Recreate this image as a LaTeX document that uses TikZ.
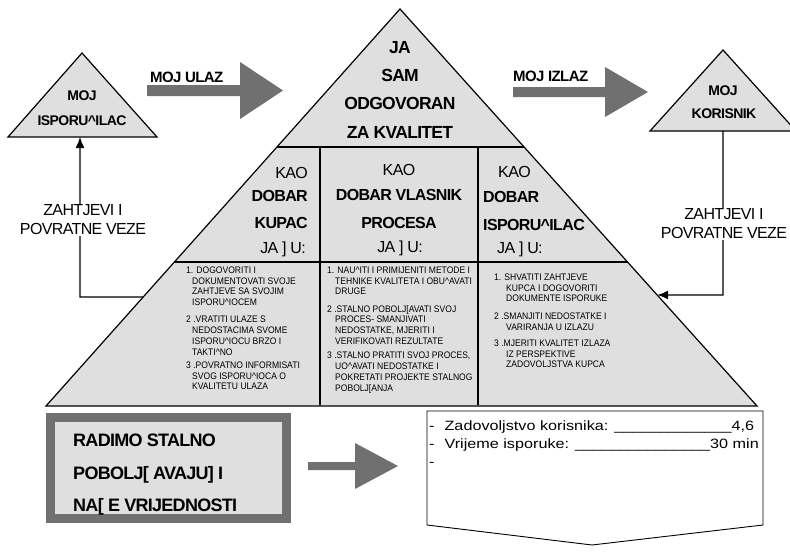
\documentclass[tikz,border=0pt]{standalone}
\usepackage{fontspec}
\setmainfont{Liberation Sans}
\newfontfamily\capsfont[LetterSpace=-4]{Liberation Sans}
\newfontfamily\listfont[FakeStretch=0.9]{Liberation Sans}
\newfontfamily\widefont[FakeStretch=1.2]{Liberation Sans}
\usetikzlibrary{arrows.meta,calc}
\definecolor{pyrgray}{HTML}{DFDFDF}
\definecolor{arrgray}{HTML}{707070}
\newcommand\hatc{\textasciicircum}

\begin{document}
\begin{tikzpicture}[x=1pt,y=-1pt,
  grayshape/.style={fill=pyrgray,draw=black,line width=1.2pt,line join=miter},
  divider/.style={line width=2pt},
  blockarrow/.style={fill=arrgray},
  feedback/.style={line width=1.4pt,-{Latex[length=11pt,width=9pt]}},
  captext/.style={inner sep=0pt,font=\capsfont\fontsize{16}{18}\selectfont},
  capbold/.style={inner sep=0pt,font=\capsfont\bfseries\fontsize{16}{18}\selectfont},
  topbold/.style={inner sep=0pt,font=\capsfont\bfseries\fontsize{17.5}{20}\selectfont},
  tribold/.style={inner sep=0pt,font=\capsfont\bfseries\fontsize{14}{16}\selectfont},
  arrlabel/.style={inner sep=0pt,font=\capsfont\bfseries\fontsize{15}{17}\selectfont},
  boxbold/.style={inner sep=0pt,font=\capsfont\bfseries\fontsize{18}{20}\selectfont},
  fblabel/.style={fill=white,inner sep=1pt,align=center,font=\capsfont\fontsize{16}{19}\selectfont},
  listtext/.style={inner sep=0pt,align=left,font=\listfont\fontsize{9.5}{10.7}\selectfont},
  widetext/.style={inner sep=0pt,font=\widefont\fontsize{13.5}{18}\selectfont},
]
\useasboundingbox (0,0) rectangle (790,554);
\clip (0,0) rectangle (790,554);

% supplier triangle (left) and customer triangle (right)
\coordinate (sA) at (82,53);
\coordinate (sL) at (8,137);
\coordinate (sR) at (157,137);
\draw[grayshape] (sA) -- (sL) -- (sR) -- cycle;
\node[tribold,anchor=base] (sup1) at (82,100) {MOJ};
\node[tribold,anchor=base] (sup2) at (82,125) {ISPORU\hatc ILAC};

\coordinate (kA) at (723,50);
\coordinate (kL) at (650,131);
\coordinate (kR) at (796,131);
\draw[grayshape] (kA) -- (kL) -- (kR) -- cycle;
\node[tribold,anchor=base] (cus1) at (723,95) {MOJ};
\node[tribold,anchor=base] (cus2) at (724,118) {KORISNIK};

% main pyramid
\coordinate (pA) at (400,9);
\coordinate (pL) at (46,406);
\coordinate (pR) at (757,406);
\draw[grayshape] (pA) -- (pL) -- (pR) -- cycle;
\draw[divider] ($(pA)!0.3476!(pL)$) -- ($(pA)!0.3476!(pR)$);
\draw[divider] ($(pA)!0.6373!(pL)$) -- ($(pA)!0.6373!(pR)$);
\draw[divider] (320,147) -- (320,405);
\draw[divider] (478,147) -- (478,405);

% block arrows
\fill[blockarrow] (147,85) -- (240,85) -- (240,62) -- (283,90.5) -- (240,119) -- (240,96) -- (147,96) -- cycle;
\fill[blockarrow] (513,87) -- (605,87) -- (605,67) -- (648,92) -- (605,117) -- (605,97) -- (513,97) -- cycle;
\fill[blockarrow] (308,462) -- (355,462) -- (355,443) -- (398,466) -- (355,489) -- (355,470) -- (308,470) -- cycle;
\node[arrlabel,anchor=base west] (inlbl) at (150,82.5) {MOJ ULAZ};
\node[arrlabel,anchor=base west] (outlbl) at (513,81.5) {MOJ IZLAZ};

% feedback connectors
\coordinate (fbL1) at ($(pA)!0.7254!(pL)$);
\coordinate (fbL2) at (80,297);
\coordinate (fbL3) at (80,137);
\draw[feedback] (fbL1) -- (fbL2) -- (fbL3);
\coordinate (fbR1) at (723,131);
\coordinate (fbR2) at (723,295);
\coordinate (fbR3) at ($(pA)!0.7204!(pR)$);
\draw[feedback] (fbR1) -- (fbR2) -- (fbR3);
\node[fblabel] (fbLlbl) at (83,220) {ZAHTJEVI I\\POVRATNE VEZE};
\node[fblabel] (fbRlbl) at (724,224) {ZAHTJEVI I\\POVRATNE VEZE};

% top section
\node[topbold,anchor=base] (t1) at (400,53.3) {JA};
\node[topbold,anchor=base] (t2) at (400,81.3) {SAM};
\node[topbold,anchor=base] (t3) at (400,109.3) {ODGOVORAN};
\node[topbold,anchor=base] (t4) at (400,138.3) {ZA KVALITET};

% role headings
\node[captext,anchor=base east] (a1) at (308,178.7) {KAO};
\node[capbold,anchor=base east] (a2) at (308,201.7) {DOBAR};
\node[capbold,anchor=base east] (a3) at (308,228.7) {KUPAC};
\node[captext,anchor=base east] (a4) at (306,253.7) {JA ] U:};

\node[captext,anchor=base] (b1) at (399,175.7) {KAO};
\node[capbold,anchor=base] (b2) at (399,200.7) {DOBAR VLASNIK};
\node[capbold,anchor=base] (b3) at (399,228.7) {PROCESA};
\node[captext,anchor=base] (b4) at (400,252.7) {JA ] U:};

\node[captext,anchor=base west] (c1) at (498,177.7) {KAO};
\node[capbold,anchor=base west] (c2) at (483,202.7) {DOBAR};
\node[capbold,anchor=base west] (c3) at (483,230.7) {ISPORU\hatc ILAC};
\node[captext,anchor=base west] (c4) at (497,253.7) {JA ] U:};

% task lists
\node[listtext,anchor=north west] (l1) at (186,266.6) {1. DOGOVORITI I\\\hspace*{6pt}DOKUMENTOVATI SVOJE\\\hspace*{6pt}ZAHTJEVE SA SVOJIM\\\hspace*{6pt}ISPORU\hatc IOCEM};
\node[listtext,anchor=north west] (l2) at (186,316.1) {2 .VRATITI ULAZE S\\\hspace*{6pt}NEDOSTACIMA SVOME\\\hspace*{6pt}ISPORU\hatc IOCU BRZO I\\\hspace*{6pt}TAKTI\hatc NO};
\node[listtext,anchor=north west] (l3) at (186,361.6) {3 .POVRATNO INFORMISATI\\\hspace*{6pt}SVOG ISPORU\hatc IOCA O\\\hspace*{6pt}KVALITETU ULAZA};

\node[listtext,anchor=north west] (m1) at (327,266.6) {1. NAU\hatc ITI I PRIMIJENITI METODE I\\\hspace*{8pt}TEHNIKE KVALITETA I OBU\hatc AVATI\\\hspace*{8pt}DRUGE};
\node[listtext,anchor=north west] (m2) at (327,305.1) {2 .STALNO POBOLJ[AVATI SVOJ\\\hspace*{8pt}PROCES- SMANJIVATI\\\hspace*{8pt}NEDOSTATKE, MJERITI I\\\hspace*{8pt}VERIFIKOVATI REZULTATE};
\node[listtext,anchor=north west] (m3) at (327,352.1) {3 .STALNO PRATITI SVOJ PROCES,\\\hspace*{8pt}UO\hatc AVATI NEDOSTATKE I\\\hspace*{8pt}POKRETATI PROJEKTE STALNOG\\\hspace*{8pt}POBOLJ[ANJA};

\node[listtext,anchor=north west] (r1) at (494,273.6) {1. SHVATITI ZAHTJEVE\\\hspace*{12pt}KUPCA I DOGOVORITI\\\hspace*{12pt}DOKUMENTE ISPORUKE};
\node[listtext,anchor=north west] (r2) at (494,312.6) {2 .SMANJITI NEDOSTATKE I\\\hspace*{12pt}VARIRANJA U IZLAZU};
\node[listtext,anchor=north west] (r3) at (494,339.6) {3 .MJERITI KVALITET IZLAZA\\\hspace*{12pt}IZ PERSPEKTIVE\\\hspace*{12pt}ZADOVOLJSTVA KUPCA};

% values box
\fill[arrgray] (46,413) rectangle (291,523);
\fill[pyrgray] (55,422) rectangle (282,514);
\node[boxbold,anchor=base west] (v1) at (73,446.4) {RADIMO STALNO};
\node[boxbold,anchor=base west] (v2) at (73,479.4) {POBOLJ[ AVAJU] I};
\node[boxbold,anchor=base west] (v3) at (73,511.4) {NA[ E VRIJEDNOSTI};

% measures sheet
\coordinate (mTL) at (427,411);
\coordinate (mTR) at (763,411);
\coordinate (mBR) at (763,525);
\coordinate (mTip) at (592,545);
\coordinate (mBL) at (427,525);
\draw[line width=0.9pt,fill=white] (mTL) -- (mTR) -- (mBR) -- (mTip) -- (mBL) -- cycle;
\node[widetext,anchor=base west] (w1) at (429,430) {-\hspace{10pt}Zadovoljstvo korisnika: \_\_\_\_\_\_\_\_\_\_\_\_\_4,6};
\node[widetext,anchor=base west] (w2) at (429,448) {-\hspace{10pt}Vrijeme isporuke: \_\_\_\_\_\_\_\_\_\_\_\_\_\_\_30 min};
\node[widetext,anchor=base west] (w3) at (429,466) {-};
\end{tikzpicture}
\end{document}
